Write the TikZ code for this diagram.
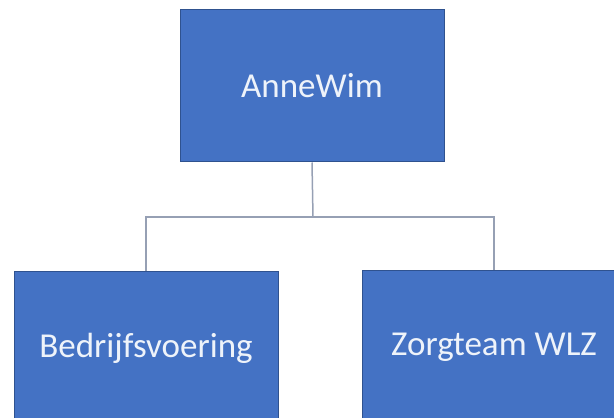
\documentclass[tikz,border=0pt]{standalone}
\usepackage{fontspec}
\setmainfont{Carlito}
\definecolor{orgblue}{RGB}{68,114,196}
\definecolor{orgrand}{RGB}{47,82,143}
\definecolor{orglijn}{RGB}{150,160,180}
\definecolor{orgtekst}{RGB}{238,243,250}
\tikzset{
	orgbox/.style={draw=orgrand, line width=1pt, fill=orgblue, text=orgtekst,
		minimum width=264pt, minimum height=152pt, inner sep=0pt,
		font=\fontsize{35}{42}\selectfont},
	orglink/.style={draw=orglijn, line width=1.5pt}
}
\begin{document}
\begin{tikzpicture}[x=1pt, y=1pt]
		\useasboundingbox (0,0) rectangle (614,418);
		\clip (0,0) rectangle (614,418);
		\draw
		node[orgbox] at (312,332) (aw) {AnneWim}
		node[orgbox] at (146,70) (bed) {Bedrijfsvoering}
		node[orgbox] at (494,71) (zorg) {Zorgteam WLZ};

		\coordinate (split) at (313,201);

		\draw[orglink] (aw.south) -- (split);
		\draw[orglink] (split) -| (bed.north);
		\draw[orglink] (split) -| (zorg.north);
\end{tikzpicture}
\end{document}
